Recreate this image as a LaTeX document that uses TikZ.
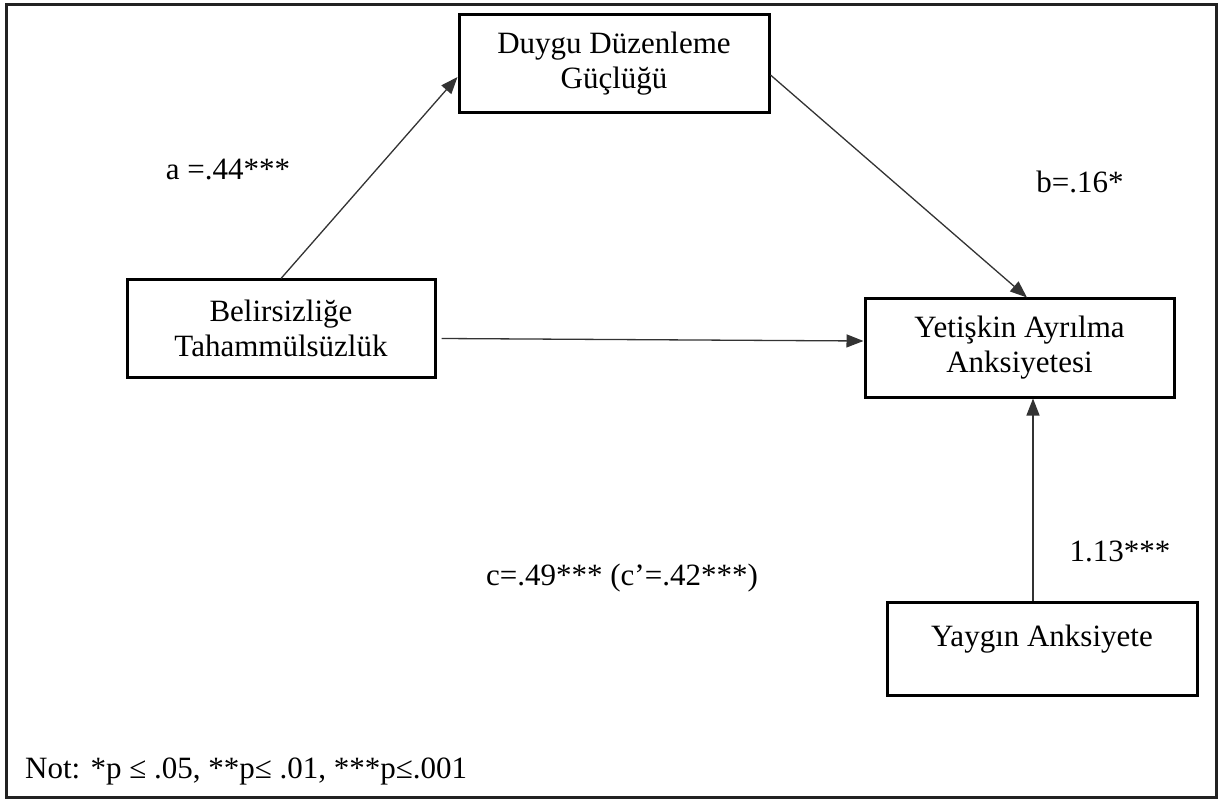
\documentclass[tikz,border=0pt]{standalone}
\usepackage{fontspec}
\setmainfont{Liberation Serif}
\usetikzlibrary{arrows.meta,calc}
\definecolor{framecol}{HTML}{222222}
\definecolor{arrcol}{HTML}{333333}
\begin{document}
\begin{tikzpicture}[x=1pt,y=-1pt,
  every node/.style={font=\fontsize{31}{35}\selectfont, text=black},
  box/.style={draw=black, line width=3pt, align=center, inner sep=0pt},
  arr/.style={draw=arrcol, line width=1.3pt, -{Triangle[length=17pt,width=13pt]}},
  lbl/.style={inner sep=0pt}]
\useasboundingbox (0,0) rectangle (1220,799);
\draw[framecol, line width=3pt] (6.5,4.5) rectangle (1216,797);
\node[box, minimum width=310pt, minimum height=98pt] (duy) at (614,64) {Duygu Düzenleme\\Güçlüğü};
\node[box, minimum width=308pt, minimum height=97pt] (bel) at (281,328.5) {Belirsizliğe\\Tahammülsüzlük};
\node[box, minimum width=309pt, minimum height=98pt] (yet) at (1019.5,348) {Yetişkin Ayrılma\\Anksiyetesi};
\node[box, minimum width=310pt, minimum height=93pt] (yay) at (1042,648.5) {};
\node[lbl] (yaytxt) at (1042,639) {Yaygın Anksiyete};
\draw[arr] (bel.north) -- ([yshift=-13pt]duy.west);
\draw[arr] ([yshift=-11pt]duy.east) -- ([xshift=7.5pt]yet.north);
\draw[arr] ([xshift=5pt,yshift=-10pt]bel.east) -- ([yshift=7pt]yet.west);
\draw[arr] ([xshift=-9pt]yay.north) -- ([xshift=13.5pt]yet.south);
\node[lbl] (la) at (228,170) {a =.44***};
\node[lbl] (lb) at (1080,182) {b=.16*};
\node[lbl] (lc) at (622,578) {c=.49*** (c’=.42***)};
\node[lbl] (ld) at (1120,551) {1.13***};
\node[lbl, anchor=west] (note) at (25,771) {Not: *p ≤ .05, **p≤ .01, ***p≤.001};
\end{tikzpicture}
\end{document}
